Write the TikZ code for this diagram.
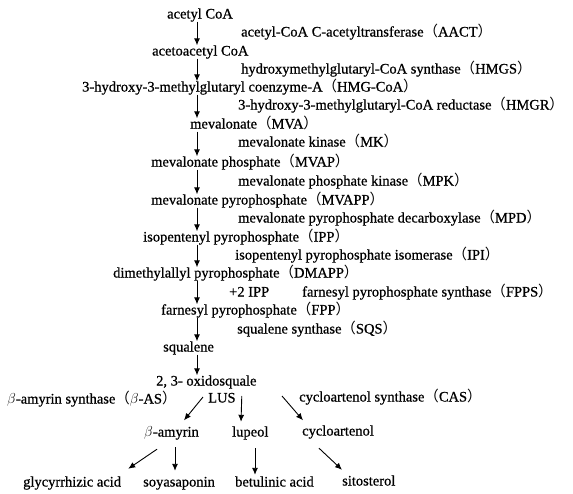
\documentclass[tikz,border=0pt]{standalone}
\usepackage{fontspec}
\setmainfont{Liberation Serif}[FakeBold=0.7]
\newfontfamily\cjk{Noto Sans CJK SC}
\usetikzlibrary{arrows.meta}
\newcommand{\fwl}{{\cjk （}}
\newcommand{\fwr}{{\cjk ）}}
\tikzset{
  cmpd/.style={anchor=west, inner sep=0pt, text height=10pt, text depth=3pt, font=\fontsize{14.5}{16}\selectfont},
  enz/.style={cmpd},
  arr/.style={-{Latex[length=7pt,width=6pt]}, line width=0.9pt},
}

\begin{document}
\begin{tikzpicture}[x=1pt,y=-1pt]
    \useasboundingbox (0,0) rectangle (573,493);
    \coordinate (axis) at (197,0);
    \node[cmpd] (acetyl) at (167,15) {acetyl CoA};
    \node[cmpd] (acetoacetyl) at (152,52) {acetoacetyl CoA};
    \node[cmpd] (hmgcoa) at (82,88) {3-hydroxy-3-methylglutaryl coenzyme-A\fwl HMG-CoA\fwr};
    \node[cmpd] (mva) at (190,125) {mevalonate\fwl MVA\fwr};
    \node[cmpd] (mvap) at (151,163) {mevalonate phosphate\fwl MVAP\fwr};
    \node[cmpd] (mvapp) at (151,201) {mevalonate pyrophosphate\fwl MVAPP\fwr};
    \node[cmpd] (ipp) at (143,238) {isopentenyl pyrophosphate\fwl IPP\fwr};
    \node[cmpd] (dmapp) at (113,274) {dimethylallyl pyrophosphate\fwl DMAPP\fwr};
    \node[cmpd] (fpp) at (161,311) {farnesyl pyrophosphate\fwl FPP\fwr};
    \node[cmpd] (squalene) at (163,348) {squalene};
    \node[cmpd] (oxido) at (156,382) {2, 3- oxidosquale};

    \node[enz] (aact) at (241,33) {acetyl-CoA C-acetyltransferase\fwl AACT\fwr};
    \node[enz] (hmgs) at (241,70) {hydroxymethylglutaryl-CoA synthase\fwl HMGS\fwr};
    \node[enz] (hmgr) at (238,106) {3-hydroxy-3-methylglutaryl-CoA reductase\fwl HMGR\fwr};
    \node[enz] (mk) at (238,143) {mevalonate kinase\fwl MK\fwr};
    \node[enz] (mpk) at (238,182) {mevalonate phosphate kinase\fwl MPK\fwr};
    \node[enz] (mpd) at (238,219) {mevalonate pyrophosphate decarboxylase\fwl MPD\fwr};
    \node[enz] (ipi) at (235,256) {isopentenyl pyrophosphate isomerase\fwl IPI\fwr};
    \node[enz] (plusipp) at (229,293) {+2 IPP};
    \node[enz] (fpps) at (302,293) {farnesyl pyrophosphate synthase\fwl FPPS\fwr};
    \node[enz] (sqs) at (237,330) {squalene synthase\fwl SQS\fwr};

    \node[enz] (bas) at (7,400) {$\beta$-amyrin synthase\fwl$\beta$-AS\fwr};
    \node[enz] (lus) at (208,399) {LUS};
    \node[enz] (cas) at (299,398) {cycloartenol synthase\fwl CAS\fwr};
    \node[cmpd] (bamyrin) at (144,433) {$\beta$-amyrin};
    \node[cmpd] (lupeol) at (232,433) {lupeol};
    \node[cmpd] (cyclo) at (302,432) {cycloartenol};
    \node[cmpd] (glyc) at (23,483) {glycyrrhizic acid};
    \node[cmpd] (soya) at (143,483) {soyasaponin};
    \node[cmpd] (betul) at (235,483) {betulinic acid};
    \node[cmpd] (sito) at (342,482) {sitosterol};

    \foreach \a/\b in {acetyl/acetoacetyl, acetoacetyl/hmgcoa, hmgcoa/mva, mva/mvap, mvap/mvapp,
                       mvapp/ipp, ipp/dmapp, dmapp/fpp, fpp/squalene, squalene/oxido}
        \draw[arr] (\a.south -| axis) -- (\b.north -| axis);

    \draw[arr] ([xshift=-5pt,yshift=2pt]lus.west) -- ([xshift=40pt,yshift=6pt]bamyrin.north west);
    \draw[arr] ([xshift=6pt,yshift=3pt]lus.east) -- ([xshift=9pt,yshift=4.5pt]lupeol.north west);
    \draw[arr] ([xshift=-17pt,yshift=2pt]cas.west) -- ([xshift=1pt,yshift=5pt]cyclo.north west);
    \draw[arr] ([xshift=13pt,yshift=-9.5pt]bamyrin.south west) -- ([xshift=7pt,yshift=7.5pt]glyc.north east);
    \draw[arr] ([xshift=31pt,yshift=-7.5pt]bamyrin.south west) -- ([xshift=32pt,yshift=5.5pt]soya.north west);
    \draw[arr] ([xshift=23pt,yshift=-8.5pt]lupeol.south west) -- ([xshift=20pt,yshift=1.5pt]betul.north west);
    \draw[arr] ([xshift=17pt,yshift=-9.5pt]cyclo.south west) -- ([yshift=5.5pt]sito.north west);
\end{tikzpicture}
\end{document}
